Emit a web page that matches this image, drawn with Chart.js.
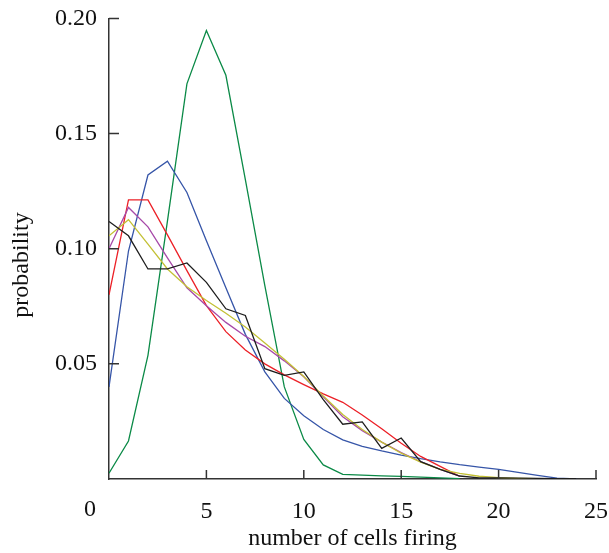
<!DOCTYPE html>
<html>
<head>
<meta charset="utf-8">
<script src="https://cdn.jsdelivr.net/npm/chart.js@4.4.1/dist/chart.umd.min.js"></script>
<style>
  html, body { margin: 0; padding: 0; background: #fff; }
  #wrap { width: 609px; height: 553px; position: relative; }
</style>
</head>
<body>
<div id="wrap"><canvas id="c" width="609" height="553"></canvas></div>
<script>
// ---- data ----
const cellCounts = [0,1,2,3,4,5,6,7,8,9,10,11,12,13,14,15,16,17,18,19,20,21,22,23,24];

const greenProb   = [0.0025,0.0165,0.0537,0.112,0.1716,0.1947,0.1753,0.130,0.084,0.040,0.0172,0.0061,0.002,0.0017,0.0014,0.0011,0.0008,0.0005,0.0002];
const blueProb    = [0.040,0.099,0.132,0.138,0.1244,0.1035,0.083,0.0628,0.0465,0.035,0.0275,0.0215,0.017,0.0142,0.0122,0.0104,0.0088,0.0074,0.0062,0.0052,0.0042,0.0029,0.0016,0.0004,0];
const redProb     = [0.080,0.1212,0.1212,0.106,0.0905,0.0753,0.064,0.056,0.050,0.0452,0.041,0.037,0.0333,0.0278,0.0218,0.0155,0.0098,0.0055,0.0012];
const magentaProb = [0.100,0.1179,0.1095,0.096,0.083,0.0752,0.068,0.062,0.0575,0.0513,0.0444,0.0357,0.027,0.021,0.016,0.0115,0.0075,0.0042,0.0012];
const yellowProb  = [0.1056,0.1126,0.102,0.0912,0.0835,0.0775,0.072,0.066,0.059,0.052,0.0445,0.036,0.028,0.0215,0.016,0.0112,0.0073,0.0042,0.0024,0.0012,0.0006,0.0003,0.0001];
const blackProb   = [0.1118,0.1056,0.0912,0.0912,0.0938,0.0854,0.0739,0.071,0.0479,0.045,0.0465,0.0345,0.0238,0.0248,0.0133,0.0178,0.0075,0.0042,0.0013,0.0005,0.0005,0.0004,0.0003,0.0002,0.0001];

const xTickValues = [0,5,10,15,20,25];
const yTickValues = [0.05,0.10,0.15,0.20];
const xTitle = 'number of cells firing';
const yTitle = 'probability';
const originLabel = '0';

const FONT = "'Liberation Serif','Times New Roman',serif";

function pts(arr) { return arr.map((v, i) => ({ x: cellCounts[i], y: v })); }

function ds(arr, color) {
  return { data: pts(arr), borderColor: color, backgroundColor: color, borderWidth: 1.3,
           pointRadius: 0, tension: 0, fill: false };
}

const innerTicks = {
  id: 'innerTicks',
  afterDraw(chart) {
    const ctx = chart.ctx, xs = chart.scales.x, ys = chart.scales.y;
    const x0 = xs.getPixelForValue(0), y0 = ys.getPixelForValue(0);
    ctx.save();
    ctx.strokeStyle = '#333';
    ctx.lineWidth = 1.5;
    ctx.beginPath();
    xTickValues.forEach(v => {
      if (v === 0) return;
      const px = xs.getPixelForValue(v);
      ctx.moveTo(px, y0); ctx.lineTo(px, y0 - 9);
    });
    yTickValues.forEach(v => {
      const py = ys.getPixelForValue(v);
      ctx.moveTo(x0, py); ctx.lineTo(x0 + 10, py);
    });
    ctx.stroke();
    ctx.fillStyle = '#111';
    ctx.font = "24px " + FONT;
    ctx.textAlign = 'center';
    ctx.textBaseline = 'middle';
    ctx.fillText(originLabel, x0 - 19, y0 + 31);
    ctx.translate(22, 265);
    ctx.rotate(-Math.PI / 2);
    ctx.font = "24px " + FONT;
    ctx.fillText(yTitle, 0, 0);
    ctx.restore();
  }
};

new Chart(document.getElementById('c'), {
  type: 'line',
  data: {
    datasets: [
      ds(blackProb,   '#1e1e1e'),
      ds(yellowProb,  '#c3c035'),
      ds(magentaProb, '#a74aa9'),
      ds(redProb,     '#ec2027'),
      ds(blueProb,    '#3655a8'),
      ds(greenProb,   '#0b8a47')
    ]
  },
  options: {
    responsive: false,
    animation: false,
    events: [],
    layout: { padding: { left: 0, right: 0, top: 10, bottom: 0 } },
    plugins: { legend: { display: false }, tooltip: { enabled: false } },
    scales: {
      x: {
        type: 'linear', min: 0, max: 25,
        afterFit(s) { s.height = 74; s.paddingRight = 13; s.paddingLeft = 0; },
        afterBuildTicks(s) { s.ticks = xTickValues.map(v => ({ value: v })); },
        grid: { display: false },
        border: { display: true, color: '#333', width: 1.5 },
        ticks: { color: '#111', padding: 10, maxRotation: 0,
                 font: { family: FONT, size: 24 },
                 callback: v => (v === 0 ? '' : String(v)) },
        title: { display: true, text: xTitle, color: '#111',
                 font: { family: FONT, size: 24 }, padding: { top: 0, bottom: 0 } }
      },
      y: {
        type: 'linear', min: 0, max: 0.2,
        afterFit(s) { s.width = 109; },
        afterBuildTicks(s) { s.ticks = yTickValues.map(v => ({ value: v })); },
        grid: { display: false },
        border: { display: true, color: '#333', width: 1.5 },
        ticks: { color: '#111', padding: 4,
                 font: { family: FONT, size: 24 },
                 callback: v => v.toFixed(2) }
      }
    }
  },
  plugins: [innerTicks]
});
</script>
</body>
</html>
